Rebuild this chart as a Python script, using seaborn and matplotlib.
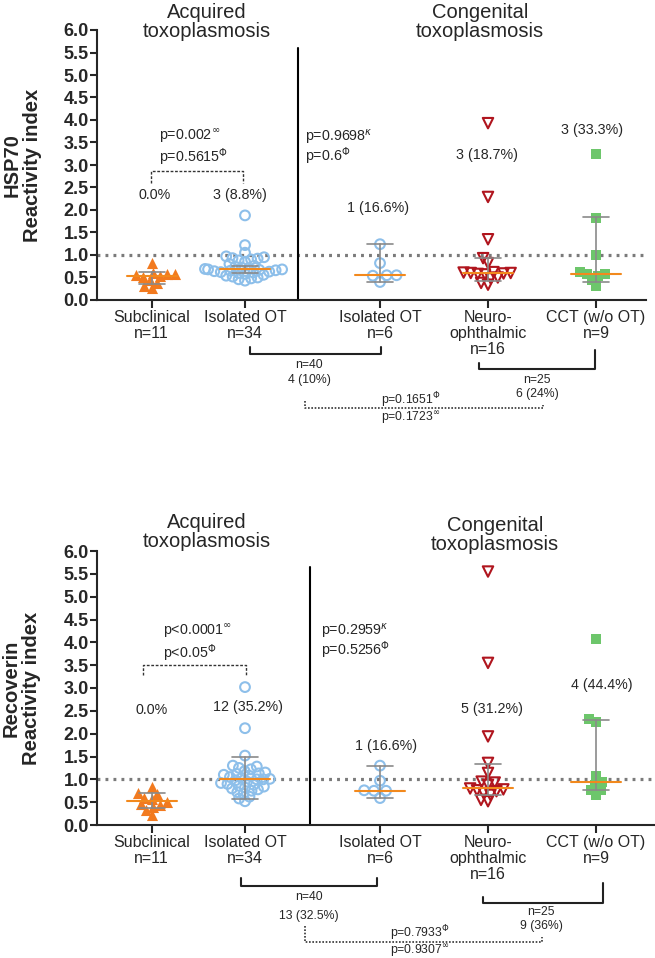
import numpy as np
import pandas as pd
import matplotlib
matplotlib.use("Agg")
import matplotlib.pyplot as plt
import matplotlib.transforms as mtrans
import seaborn as sns

# groups / tick labels
groups = ['Subclinical', 'Isolated OT acq', 'Isolated OT cong', 'Neuro-ophthalmic', 'CCT']
tick_labels = ['Subclinical\nn=11', 'Isolated OT\nn=34', 'Isolated OT\nn=6',
               'Neuro-\nophthalmic\nn=16', 'CCT (w/o OT)\nn=9']
positions = [0.545, 1.48, 2.83, 3.91, 4.99]

# HSP70 reactivity index
hsp70_subclinical = [0.82, 0.60, 0.58, 0.57, 0.55, 0.53, 0.50, 0.45, 0.38, 0.30, 0.27]
hsp70_iso_acq = [1.88, 1.22, 1.05, 0.97, 0.95, 0.93, 0.92, 0.90, 0.88, 0.85, 0.80, 0.76,
                 0.74, 0.72, 0.70, 0.69, 0.68, 0.68, 0.67, 0.66, 0.65, 0.64, 0.63, 0.62,
                 0.61, 0.60, 0.58, 0.56, 0.54, 0.52, 0.50, 0.48, 0.46, 0.43]
hsp70_iso_cong = [1.24, 0.82, 0.55, 0.55, 0.54, 0.40]
hsp70_neuro = [3.93, 2.29, 1.35, 0.93, 0.82, 0.62, 0.61, 0.60, 0.60, 0.59, 0.58, 0.57,
               0.50, 0.48, 0.38, 0.34]
hsp70_cct = [3.25, 1.83, 1.00, 0.62, 0.58, 0.57, 0.53, 0.45, 0.32]
hsp70_median = [0.53, 0.68, 0.55, 0.60, 0.57]
hsp70_low = [0.36, 0.60, 0.40, 0.42, 0.40]
hsp70_high = [0.63, 0.76, 1.24, 0.93, 1.85]

# Recoverin reactivity index
rec_subclinical = [0.84, 0.70, 0.68, 0.60, 0.58, 0.51, 0.45, 0.43, 0.40, 0.33, 0.22]
rec_iso_acq = [3.02, 2.12, 1.52, 1.30, 1.28, 1.25, 1.22, 1.18, 1.15, 1.13, 1.12, 1.10,
               1.08, 1.05, 1.03, 1.01, 1.00, 1.00, 0.98, 0.95, 0.92, 0.90, 0.88, 0.86,
               0.84, 0.82, 0.80, 0.78, 0.75, 0.72, 0.68, 0.62, 0.58, 0.52]
rec_iso_cong = [1.30, 0.97, 0.76, 0.75, 0.75, 0.59]
rec_neuro = [5.55, 3.55, 1.94, 1.36, 1.14, 0.95, 0.93, 0.88, 0.80, 0.78, 0.76, 0.74,
             0.70, 0.66, 0.55, 0.52]
rec_cct = [4.08, 2.33, 2.25, 1.08, 0.95, 0.88, 0.77, 0.76, 0.65]
rec_median = [0.52, 1.00, 0.75, 0.81, 0.95]
rec_low = [0.38, 0.57, 0.59, 0.66, 0.77]
rec_high = [0.69, 1.49, 1.30, 1.34, 2.30]

markers = ['^', 'o', 'o', 'v', 's']
colors = ['#F27A1F', '#8DBFEA', '#8DBFEA', '#B0151E', '#6DC66B']
hollow = [False, True, True, True, False]
marker_size = [8.0, 7.0, 7.0, 7.5, 7.0]
layout_size = [5.2, 3.0, 5.2, 3.4, 5.2]

W, H = 655, 958
sns.set_style("ticks")
plt.rcParams['font.family'] = ['Liberation Sans', 'DejaVu Sans']
plt.rcParams['mathtext.fontset'] = 'dejavusans'

fig = plt.figure(figsize=(W / 100, H / 100), dpi=100)
ax1 = fig.add_axes([97 / W, 1 - 300 / H, 549 / W, 270 / H])
ax2 = fig.add_axes([97 / W, 1 - 825 / H, 558 / W, 274 / H])

swarms = []


def fy(px):
    return 1 - px / H


def make_df(vals):
    rows = []
    for g, p, v in zip(groups, positions, vals):
        for x in v:
            rows.append({'group': g, 'pos': p, 'value': x})
    return pd.DataFrame(rows)


def draw_panel(ax, df, med, low, high, ylabel, xmax):
    ax.axhline(1.0, color='#7a7a7a', lw=2.3, ls=(0, (0.9, 1.6)), zorder=1)
    for i, g in enumerate(groups):
        sub = df[df.group == g]
        # lay the swarm out with a small marker, markers get enlarged later (GraphPad-like overlap)
        sns.swarmplot(data=sub, x='pos', y='value', native_scale=True, orient='x',
                      marker=markers[i], color=colors[i], size=layout_size[i],
                      linewidth=0, ax=ax, zorder=3)
        coll = ax.collections[-1]
        if hollow[i]:
            coll.set_facecolor('none')
            coll.set_edgecolor(colors[i])
            coll.set_linewidth(1.5)
        swarms.append((coll, marker_size[i]))
    for i, p in enumerate(positions):
        ax.plot([p, p], [low[i], high[i]], color='#8a8a8a', lw=1.2, zorder=4)
        ax.plot([p - 0.13, p + 0.13], [low[i], low[i]], color='#8a8a8a', lw=1.2, zorder=4)
        ax.plot([p - 0.13, p + 0.13], [high[i], high[i]], color='#8a8a8a', lw=1.2, zorder=4)
        ax.plot([p - 0.25, p + 0.25], [med[i], med[i]], color='#F2891D', lw=1.5, zorder=5)
    ax.set_xlim(0, xmax)
    ax.set_ylim(0, 6)
    yt = np.arange(0, 6.01, 0.5)
    ax.set_yticks(yt, labels=[f'{t:.1f}' for t in yt], fontsize=13, fontweight='bold')
    ax.set_xticks(positions, labels=tick_labels, fontsize=11.5, linespacing=1.1)
    ax.tick_params(axis='y', length=5, width=1.5, pad=1)
    ax.tick_params(axis='x', length=6, width=1.5, pad=1)
    for s in ['left', 'bottom']:
        ax.spines[s].set_linewidth(1.5)
    sns.despine(ax=ax)
    ax.set_xlabel('')
    ax.set_ylabel(ylabel, fontsize=14.5, fontweight='bold', linespacing=1.1)
    ax.yaxis.set_label_coords(-0.10, 0.5)


draw_panel(ax1, make_df([hsp70_subclinical, hsp70_iso_acq, hsp70_iso_cong, hsp70_neuro, hsp70_cct]),
           hsp70_median, hsp70_low, hsp70_high, 'HSP70\nReactivity index', 5.49)
draw_panel(ax2, make_df([rec_subclinical, rec_iso_acq, rec_iso_cong, rec_neuro, rec_cct]),
           rec_median, rec_low, rec_high, 'Recoverin\nReactivity index', 5.58)

# freeze the swarm positions, then use the real marker size
fig.canvas.draw()
for coll, ms in swarms:
    coll.__dict__.pop('draw', None)
    coll.set_sizes([ms ** 2])

# divider between acquired and congenital
ax1.plot([2.01, 2.01], [0, 5.6], color='k', lw=1.5, clip_on=False)
ax2.plot([2.13, 2.13], [0, 5.64], color='k', lw=1.5, clip_on=False)

# group headers
fig.text(207 / W, fy(22), 'Acquired\ntoxoplasmosis', ha='center', va='center', fontsize=14.5, linespacing=1.05)
fig.text(480 / W, fy(22), 'Congenital\ntoxoplasmosis', ha='center', va='center', fontsize=14.5, linespacing=1.05)
fig.text(207 / W, fy(532), 'Acquired\ntoxoplasmosis', ha='center', va='center', fontsize=14.5, linespacing=1.05)
fig.text(495 / W, fy(535), 'Congenital\ntoxoplasmosis', ha='center', va='center', fontsize=14.5, linespacing=1.05)

fs = 10.3
# top panel annotations
ax1.plot([0.54, 0.54, 1.46, 1.46], [2.6, 2.87, 2.87, 2.6], color='#333333', lw=1, ls=(0, (2, 1.2)))
ax1.text(0.62, 3.64, r'p=0.002$^{\infty}$', fontsize=fs, va='center')
ax1.text(0.62, 3.18, r'p=0.5615$^{\Phi}$', fontsize=fs, va='center')
ax1.text(0.58, 2.33, '0.0%', fontsize=fs, ha='center', va='center')
ax1.text(1.43, 2.33, '3 (8.8%)', fontsize=fs, ha='center', va='center')
ax1.text(2.08, 3.62, r'p=0.9698$^{\kappa}$', fontsize=fs, va='center')
ax1.text(2.08, 3.2, r'p=0.6$^{\Phi}$', fontsize=fs, va='center')
ax1.text(2.81, 2.04, '1 (16.6%)', fontsize=fs, ha='center', va='center')
ax1.text(3.90, 3.22, '3 (18.7%)', fontsize=fs, ha='center', va='center')
ax1.text(4.95, 3.78, '3 (33.3%)', fontsize=fs, ha='center', va='center')

# bottom panel annotations
ax2.plot([0.46, 0.46, 1.49, 1.49], [3.29, 3.51, 3.51, 3.29], color='#333333', lw=1, ls=(0, (2, 1.2)))
ax2.text(0.66, 4.25, r'p<0.0001$^{\infty}$', fontsize=fs, va='center')
ax2.text(0.66, 3.77, r'p<0.05$^{\Phi}$', fontsize=fs, va='center')
ax2.text(0.55, 2.52, '0.0%', fontsize=fs, ha='center', va='center')
ax2.text(1.51, 2.59, '12 (35.2%)', fontsize=fs, ha='center', va='center')
ax2.text(2.24, 4.24, r'p=0.2959$^{\kappa}$', fontsize=fs, va='center')
ax2.text(2.24, 3.82, r'p=0.5256$^{\Phi}$', fontsize=fs, va='center')
ax2.text(2.89, 1.72, '1 (16.6%)', fontsize=fs, ha='center', va='center')
ax2.text(3.95, 2.55, '5 (31.2%)', fontsize=fs, ha='center', va='center')
ax2.text(5.05, 3.07, '4 (44.4%)', fontsize=fs, ha='center', va='center')

# comparison brackets below the axes
sfs = 8.8


def below(ax, solid, n_texts, right, dotted, p_texts):
    tr = mtrans.blended_transform_factory(ax.transData, fig.transFigure)
    x0, x1, ytop, yh = solid
    ax.plot([x0, x0, x1, x1], [fy(ytop), fy(yh), fy(yh), fy(ytop)], color='#222222', lw=1.5,
            transform=tr, clip_on=False)
    a0, a1, ya, yb, yh2 = right
    ax.plot([a0, a0, a1, a1], [fy(ya), fy(yh2), fy(yh2), fy(yb)], color='#222222', lw=1.5,
            transform=tr, clip_on=False)
    d0, d1, dya, dyb, dyh = dotted
    ax.plot([d0, d0, d1, d1], [fy(dya), fy(dyh), fy(dyh), fy(dyb)], color='#333333', lw=1.2,
            ls=(0, (1, 1)), transform=tr, clip_on=False)
    for x, y, s in n_texts + p_texts:
        ax.text(x, fy(y), s, fontsize=sfs, ha='center', va='center', transform=tr)


below(ax1, (1.53, 2.84, 347, 354),
      [(2.12, 365, 'n=40'), (2.12, 380, '4 (10%)'), (4.40, 380, 'n=25'), (4.40, 394, '6 (24%)')],
      (3.82, 4.98, 363, 350, 369),
      (2.08, 4.46, 401, 405, 408),
      [(3.14, 400, r'p=0.1651$^{\Phi}$'), (3.14, 418, r'p=0.1723$^{\infty}$')])
below(ax2, (1.435, 2.80, 878, 886),
      [(2.12, 897, 'n=40'), (2.12, 916, '13 (32.5%)'), (4.44, 912, 'n=25'), (4.44, 926, '9 (36%)')],
      (3.86, 5.06, 897, 883, 903),
      (2.08, 4.45, 926, 937, 942),
      [(3.23, 933, r'p=0.7933$^{\Phi}$'), (3.23, 951, r'p=0.9307$^{\infty}$')])

plt.savefig('out.png', dpi=100)
